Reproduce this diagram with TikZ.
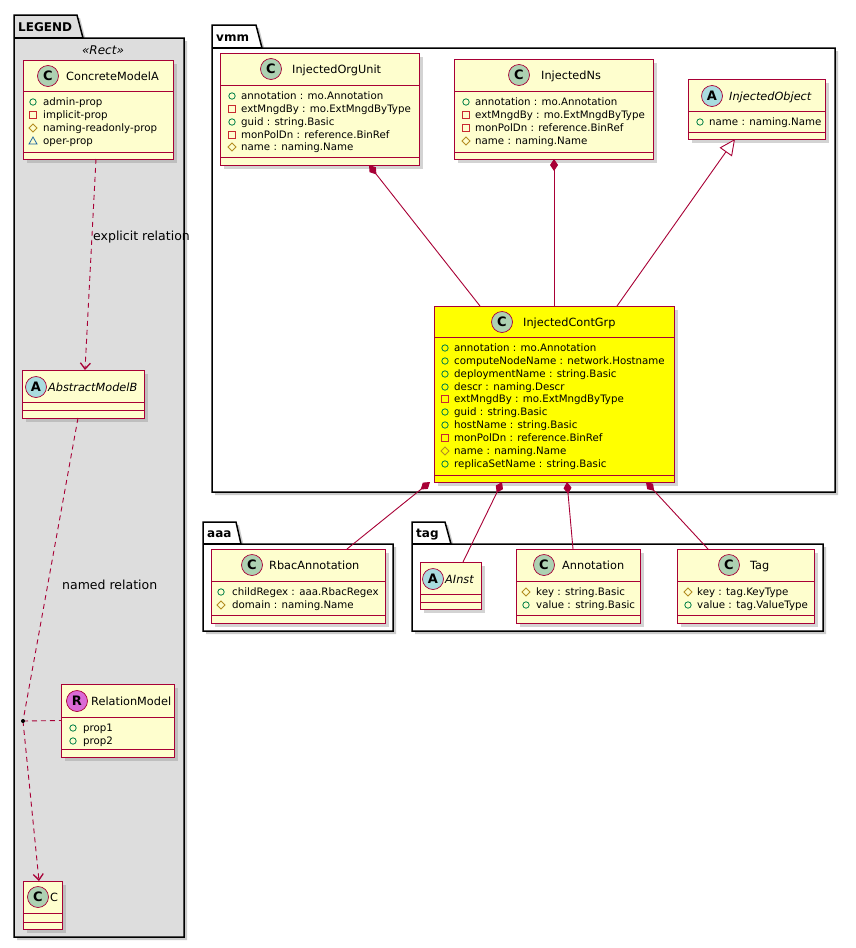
\documentclass[tikz,border=0pt]{standalone}
\usepackage{fontspec}
\setmainfont{DejaVu Sans}
\usetikzlibrary{arrows.meta,shadows}
\definecolor{umlred}{HTML}{A80036}
\definecolor{umlfill}{HTML}{FEFECE}
\definecolor{cgreen}{HTML}{ADD1B2}
\definecolor{ablue}{HTML}{A9DCDF}
\definecolor{rpink}{HTML}{DA6AD6}
\definecolor{lgray}{HTML}{DDDDDD}
\definecolor{ygrp}{HTML}{FFFF00}
\definecolor{pubc}{HTML}{038048}
\definecolor{pric}{HTML}{C82930}
\definecolor{protc}{HTML}{B38D22}
\definecolor{pkgc}{HTML}{1963A0}
\newcounter{tid}
\tikzset{
  umlcls/.style={draw=umlred, fill=umlfill, line width=0.9pt, anchor=north west, inner sep=0pt, outer sep=0pt,
    drop shadow={shadow xshift=4pt, shadow yshift=-4pt, fill=black!45, opacity=0.38}},
  umlsep/.style={draw=umlred, line width=0.9pt},
  umlcirc/.style={circle, draw=umlred, line width=0.7pt, minimum size=21pt, inner sep=0pt, font=\fontsize{13}{13}\selectfont\bfseries},
  umltitle/.style={anchor=west, inner sep=0pt, font=\fontsize{11.3}{12}\selectfont, text height=8.3pt, text depth=0pt},
  umlattr/.style={anchor=west, inner sep=0pt, font=\fontsize{10.25}{12}\selectfont, text height=7pt, text depth=0pt},
  umlicon/.style={line width=0.8pt},
  pkgline/.style={draw=black, line width=1.5pt, line join=miter},
  pkglabel/.style={anchor=west, inner sep=0pt, font=\fontsize{12}{12}\selectfont\bfseries, text height=8.6pt, text depth=0pt},
  rellabel/.style={anchor=west, inner sep=0pt, font=\fontsize{12.5}{13}\selectfont, text height=6pt, text depth=0pt},
  umldep/.style={draw=umlred, line width=0.9pt, dash pattern=on 5pt off 4pt, -{Straight Barb[length=6pt,width=10pt,line width=1.3pt]}},
  umlcomp/.style={draw=umlred, line width=0.9pt, -{Diamond[length=12pt,width=8pt,fill=umlred]}},
  umlinh/.style={draw=umlred, line width=0.9pt, -{Triangle[open,length=16pt,width=15pt,fill=white]}}
}
\newcommand\umlpkg[8]{%
  \fill[black!40, opacity=0.5, shift={(3,3)}] (#1,#2) -- (#3,#2) -- (#4,#5) -- (#6,#5) -- (#6,#7) -- (#1,#7) -- cycle;
  \filldraw[pkgline, fill=#8] (#1,#2) -- (#3,#2) -- (#4,#5) -- (#6,#5) -- (#6,#7) -- (#1,#7) -- cycle;
  \draw[pkgline] (#1,#5) -- (#4,#5);}
\newcommand\clsbox[8]{%
  \node[umlcls, minimum width=#4pt, minimum height=#5pt, #8] (#1) at (#2,#3) {};
  \draw[umlsep] (#2,#6) -- (#2+#4,#6);
  \draw[umlsep] (#2,#7) -- (#2+#4,#7);}
\newcommand\clshead[6]{%
  \stepcounter{tid}%
  \node[umlcirc, fill=#1] (hc\arabic{tid}) at (#3,#4) {#2};
  \node[umltitle] (ht\arabic{tid}) at (#5,#4) {#6};}
\newcommand\icpub[2]{\draw[umlicon, pubc] (#1,#2) circle (3.2pt);}
\newcommand\icpri[2]{\draw[umlicon, pric] (#1-3.3,#2-3.3) rectangle (#1+3.3,#2+3.3);}
\newcommand\icprot[2]{\draw[umlicon, protc] (#1-4,#2) -- (#1,#2-4) -- (#1+4,#2) -- (#1,#2+4) -- cycle;}
\newcommand\icpkg[2]{\draw[umlicon, pkgc] (#1-4,#2+3) -- (#1+4,#2+3) -- (#1,#2-4) -- cycle;}
\newcommand\att[5]{%
  \stepcounter{tid}%
  #1{#2}{#4}%
  \node[umlattr] (at\arabic{tid}) at (#3,#4) {#5};}
\begin{document}
\begin{tikzpicture}[x=1pt,y=-1pt]
\useasboundingbox (0,0) rectangle (855,948);
\fill[white] (0,0) rectangle (855,948);

% ---------- packages ----------
\umlpkg{14}{15}{77}{83}{38}{184}{937}{lgray}
\node[pkglabel] (lgdname) at (18,27) {LEGEND};
\node[inner sep=0pt, font=\fontsize{12}{12}\selectfont\itshape] (lgdstereo) at (103,50) {«Rect»};

\umlpkg{212}{25}{256}{262}{48}{835}{492}{white}
\node[pkglabel] (vmmname) at (216,37) {vmm};

\umlpkg{203}{522}{236}{241}{544}{393}{631}{white}
\node[pkglabel] (aaaname) at (207,533) {aaa};

\umlpkg{412}{522}{445}{451}{544}{823}{631}{white}
\node[pkglabel] (tagname) at (416,533) {tag};

% ---------- LEGEND classes ----------
\clsbox{concrete}{23}{60}{150}{99}{91}{152}{}
\clshead{cgreen}{C}{48}{76}{66}{ConcreteModelA}
\att\icpub{33}{43}{102}{admin-prop}
\att\icpri{33}{43}{115}{implicit-prop}
\att\icprot{33}{43}{128}{naming-readonly-prop}
\att\icpkg{33}{43}{141}{oper-prop}

\clsbox{abstractB}{22}{370}{122}{48}{402}{410}{}
\clshead{ablue}{A}{36}{387}{48}{\itshape AbstractModelB}

\clsbox{relm}{61}{684}{113}{73}{717}{749}{}
\clshead{rpink}{R}{77}{701}{91}{RelationModel}
\att\icpub{73}{83}{728}{prop1}
\att\icpub{73}{83}{741}{prop2}

\clsbox{cbox}{23}{881}{39}{48}{913}{922}{}
\clshead{cgreen}{C}{38}{897}{50}{C}

% ---------- vmm classes ----------
\clsbox{orgunit}{220}{53}{199}{112}{85}{157}{}
\clshead{cgreen}{C}{271}{69}{292}{InjectedOrgUnit}
\att\icpub{232}{241}{96}{annotation : mo.Annotation}
\att\icpri{232}{241}{109}{extMngdBy : mo.ExtMngdByType}
\att\icpub{232}{241}{122}{guid : string.Basic}
\att\icpri{232}{241}{135}{monPolDn : reference.BinRef}
\att\icprot{232}{241}{147}{name : naming.Name}

\clsbox{ns}{454}{59}{199}{100}{91}{152}{}
\clshead{cgreen}{C}{519}{75}{541}{InjectedNs}
\att\icpub{466}{475}{102}{annotation : mo.Annotation}
\att\icpri{466}{475}{115}{extMngdBy : mo.ExtMngdByType}
\att\icpri{466}{475}{128}{monPolDn : reference.BinRef}
\att\icprot{466}{475}{141}{name : naming.Name}

\clsbox{object}{688}{79}{137}{60}{111}{132}{}
\clshead{ablue}{A}{712}{96}{729}{\itshape InjectedObject}
\att\icpub{700}{709}{122}{name : naming.Name}

\clsbox{contgrp}{434}{306}{240}{176}{337}{475}{fill=ygrp}
\clshead{cgreen}{C}{502}{322}{523}{InjectedContGrp}
\att\icpub{445}{454}{348}{annotation : mo.Annotation}
\att\icpub{445}{454}{361}{computeNodeName : network.Hostname}
\att\icpub{445}{454}{374}{deploymentName : string.Basic}
\att\icpub{445}{454}{387}{descr : naming.Descr}
\att\icpri{445}{454}{399}{extMngdBy : mo.ExtMngdByType}
\att\icpub{445}{454}{412}{guid : string.Basic}
\att\icpub{445}{454}{425}{hostName : string.Basic}
\att\icpri{445}{454}{438}{monPolDn : reference.BinRef}
\att\icprot{445}{454}{451}{name : naming.Name}
\att\icpub{445}{454}{464}{replicaSetName : string.Basic}

% ---------- aaa / tag classes ----------
\clsbox{rbac}{211}{549}{174}{74}{581}{615}{}
\clshead{cgreen}{C}{252}{565}{269}{RbacAnnotation}
\att\icpub{221}{232}{592}{childRegex : aaa.RbacRegex}
\att\icprot{221}{232}{605}{domain : naming.Name}

\clsbox{ainst}{420}{562}{61}{47}{594}{602}{}
\clshead{ablue}{A}{433}{579}{445}{\itshape AInst}

\clsbox{annot}{516}{549}{124}{74}{581}{615}{}
\clshead{cgreen}{C}{544}{565}{562}{Annotation}
\att\icprot{526}{536}{592}{key : string.Basic}
\att\icpub{526}{536}{605}{value : string.Basic}

\clsbox{tagc}{677}{549}{137}{74}{581}{615}{}
\clshead{cgreen}{C}{729}{565}{750}{Tag}
\att\icprot{688}{697}{592}{key : tag.KeyType}
\att\icpub{688}{697}{605}{value : tag.ValueType}

% ---------- connectors ----------
\draw[umldep] ([xshift=-2pt]concrete.south) -- ([xshift=2pt]abstractB.north);
\coordinate (rdot) at (23,721);
\draw[umldep, -] ([xshift=-5pt]abstractB.south) -- (rdot);
\draw[umldep] (rdot) -- ([xshift=-3.5pt]cbox.north);
\draw[umldep, -] (rdot) -- (relm.west);
\fill[black] (rdot) circle (2pt);
\node[rellabel] (lblexp) at (93,237) {explicit relation};
\node[rellabel] (lblnamed) at (62,586) {named relation};

\draw[umlcomp] ([xshift=-74pt]contgrp.north) -- ([xshift=49.5pt]orgunit.south);
\draw[umlcomp] (contgrp.north) -- ([xshift=0.5pt]ns.south);
\draw[umlinh] ([xshift=63pt]contgrp.north) -- ([xshift=-21.5pt]object.south);
\draw[umlcomp] ([xshift=49pt]rbac.north) -- ([xshift=-124pt]contgrp.south);
\draw[umlcomp] ([xshift=12.5pt]ainst.north) -- ([xshift=-52pt]contgrp.south);
\draw[umlcomp] ([xshift=-5pt]annot.north) -- ([xshift=13pt]contgrp.south);
\draw[umlcomp] ([xshift=-37.5pt]tagc.north) -- ([xshift=92pt]contgrp.south);
\end{tikzpicture}
\end{document}
